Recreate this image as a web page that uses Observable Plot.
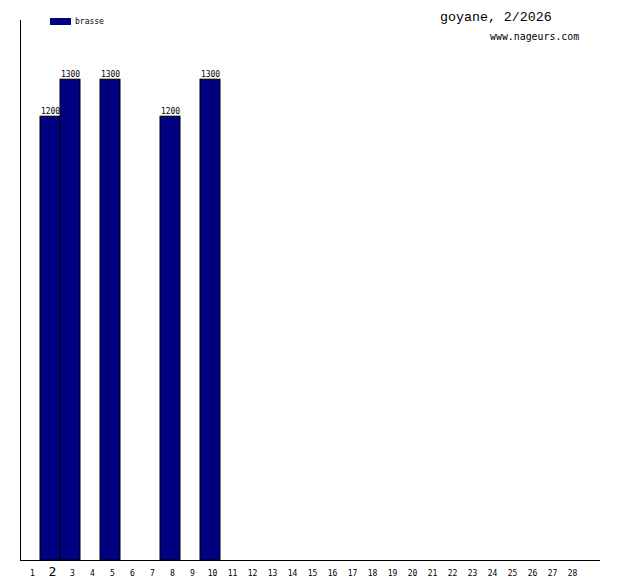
<!DOCTYPE html>
<html>
<head>
<meta charset="utf-8">
<script src="https://cdn.jsdelivr.net/npm/d3@7"></script>
<script src="https://cdn.jsdelivr.net/npm/@observablehq/plot@0.6"></script>
<style>
  html, body { margin: 0; padding: 0; background: #fff; }
  #wrap { position: relative; width: 620px; height: 580px; font-family: "DejaVu Sans Mono", monospace; }
  #title { position: absolute; left: 440px; top: 10px; font-size: 13.3px; color: #000; font-family: "Liberation Mono", monospace; }
  #site { position: absolute; left: 490px; top: 31px; font-size: 9.9px; color: #000; font-family: "DejaVu Sans Mono", monospace; }
  #legend { position: absolute; left: 50px; top: 17px; font-size: 8px; display: flex; align-items: center; }
  #legend .sw { width: 21px; height: 7px; background: #000080; margin-right: 4px; }
  svg { position: absolute; left: 0; top: 0; }
</style>
</head>
<body>
<div id="wrap">
  <div id="title"></div>
  <div id="site"></div>
  <div id="legend"><span class="sw"></span><span id="legtext"></span></div>
</div>
<script>
const titleText = "goyane, 2/2026";
const siteText = "www.nageurs.com";
const seriesName = "brasse";
const days = d3.range(1, 29);
const barDays = [2, 3, 5, 8, 10];
const barValues = [1200, 1300, 1300, 1200, 1300];
const currentDay = 2;

document.getElementById("title").textContent = titleText;
document.getElementById("site").textContent = siteText;
document.getElementById("legtext").textContent = seriesName;

const bars = barDays.map((d, i) => ({day: d, value: barValues[i]}));

const chart = Plot.plot({
  width: 620,
  height: 580,
  marginLeft: 20,
  marginRight: 20,
  marginTop: 20,
  marginBottom: 20,
  style: {background: "transparent", fontFamily: "DejaVu Sans Mono, monospace"},
  x: {type: "linear", domain: [0, 29], axis: null},
  y: {domain: [0, 1460], axis: null},
  marks: [
    Plot.rectY(bars, {x1: d => d.day - 1, x2: d => d.day, y1: 0, y2: "value", fill: "#000080", stroke: "#000", strokeWidth: 1}),
    Plot.text(bars, {x: d => d.day - 0.5, y: "value", text: d => String(d.value), dy: -5, fontSize: 8, fill: "#000"}),
    Plot.ruleX([0], {stroke: "#000", strokeWidth: 1}),
    Plot.ruleY([0], {stroke: "#000", strokeWidth: 1}),
    Plot.text(days, {
      x: d => d - 0.5, frameAnchor: "bottom", dy: 15, dx: 2,
      text: d => String(d),
      fontSize: d => d === currentDay ? 13 : 8,
      fontWeight: d => d === currentDay ? "bold" : "normal",
      fill: "#000"
    })
  ]
});
document.getElementById("wrap").appendChild(chart);
</script>
</body>
</html>
